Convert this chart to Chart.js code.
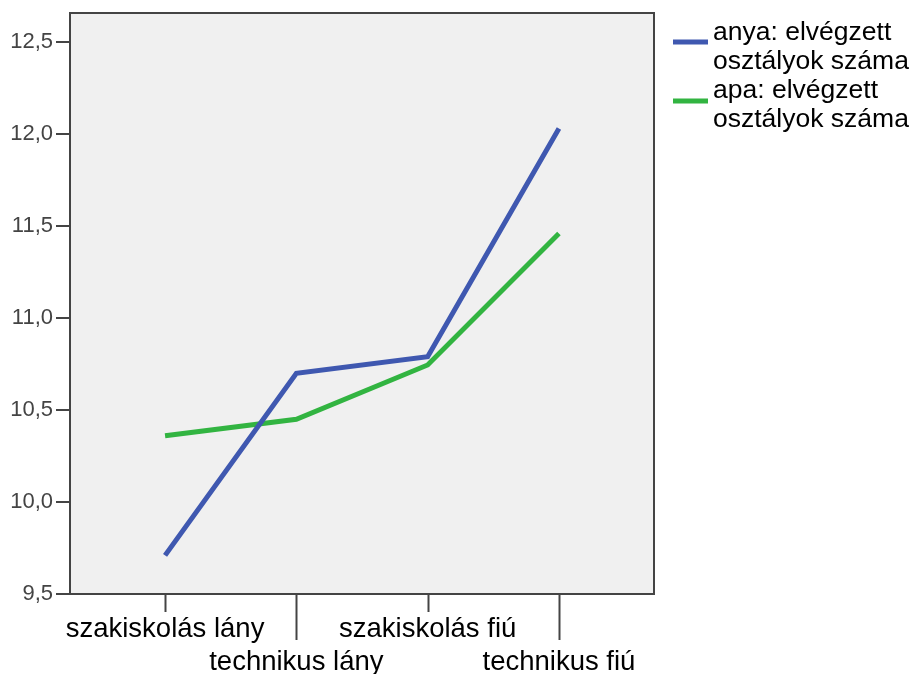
<!DOCTYPE html>
<html>
<head>
<meta charset="utf-8">
<script src="https://cdn.jsdelivr.net/npm/chart.js@4.4.1/dist/chart.umd.min.js"></script>
<style>
html,body{margin:0;padding:0;background:#fff;}
#wrap{width:923px;height:674px;position:relative;}
</style>
</head>
<body>
<div id="wrap"><canvas id="c" width="923" height="674"></canvas></div>
<script>
const categories = ['szakiskolás lány', 'technikus lány', 'szakiskolás fiú', 'technikus fiú'];
const seriesNames = [['anya: elvégzett', 'osztályok száma'], ['apa: elvégzett', 'osztályok száma']];
const anyaValues = [9.71, 10.70, 10.79, 12.03];
const apaValues = [10.36, 10.45, 10.745, 11.46];
const yTickValues = [9.5, 10.0, 10.5, 11.0, 11.5, 12.0, 12.5];
const seriesColors = ['#3f58b0', '#32b441'];

const FONT = '"Liberation Sans", Arial, sans-serif';

const bgPlugin = {
  id: 'bg',
  beforeDraw(chart) {
    const {ctx, chartArea: a} = chart;
    ctx.save();
    ctx.fillStyle = '#f0f0f0';
    ctx.fillRect(a.left, a.top, a.right - a.left, a.bottom - a.top);
    ctx.restore();
  },
  afterDatasetsDraw(chart) {
    const {ctx, chartArea: a, scales} = chart;
    ctx.save();
    ctx.strokeStyle = '#444';
    ctx.lineWidth = 2;
    ctx.strokeRect(a.left, a.top, a.right - a.left, a.bottom - a.top);
    categories.forEach((c, i) => {
      const x = Math.round(scales.x.getPixelForValue(i)) + 0.5;
      ctx.beginPath();
      ctx.moveTo(x, a.bottom);
      ctx.lineTo(x, a.bottom + (i % 2 === 0 ? 18 : 46));
      ctx.stroke();
    });
    yTickValues.forEach(v => {
      const y = Math.round(scales.y.getPixelForValue(v));
      ctx.beginPath();
      ctx.moveTo(a.left - 14, y);
      ctx.lineTo(a.left, y);
      ctx.stroke();
    });
    ctx.font = '26.5px ' + FONT;
    ctx.fillStyle = '#000';
    ctx.textBaseline = 'middle';
    ctx.textAlign = 'left';
    const lineY = [42, 101];
    const textY = [[33, 62], [91, 120]];
    seriesNames.forEach((lines, k) => {
      ctx.strokeStyle = seriesColors[k];
      ctx.lineWidth = 5;
      ctx.beginPath();
      ctx.moveTo(673, lineY[k]);
      ctx.lineTo(708, lineY[k]);
      ctx.stroke();
      lines.forEach((t, j) => ctx.fillText(t, 713, textY[k][j]));
    });
    ctx.restore();
  }
};

const toPoints = arr => arr.map((v, i) => ({x: i, y: v}));

new Chart(document.getElementById('c'), {
  type: 'line',
  data: {
    datasets: [
      {label: seriesNames[0].join(' '), data: toPoints(anyaValues), borderColor: seriesColors[0], borderWidth: 5, pointRadius: 0, tension: 0, fill: false, borderCapStyle: 'butt'},
      {label: seriesNames[1].join(' '), data: toPoints(apaValues), borderColor: seriesColors[1], borderWidth: 5, pointRadius: 0, tension: 0, fill: false, borderCapStyle: 'butt'}
    ]
  },
  options: {
    responsive: false,
    animation: false,
    devicePixelRatio: 1,
    layout: {padding: {top: 13, right: 269, left: 0, bottom: 0}},
    plugins: {legend: {display: false}, tooltip: {enabled: false}},
    scales: {
      x: {
        type: 'linear',
        min: -0.724,
        max: 3.724,
        afterBuildTicks: s => { s.ticks = categories.map((c, i) => ({value: i})); },
        afterFit: s => { s.height = 80; s.paddingLeft = 0; s.paddingRight = 0; },
        grid: {display: false, drawTicks: false},
        border: {display: false},
        ticks: {
          autoSkip: false,
          maxRotation: 0,
          padding: 19,
          color: '#000',
          font: {family: FONT, size: 27.5},
          callback: (v) => { const i = Math.round(v); return i % 2 === 0 ? categories[i] : ['', categories[i]]; }
        }
      },
      y: {
        min: 9.5,
        max: 12.658,
        afterBuildTicks: s => { s.ticks = yTickValues.map(v => ({value: v})); },
        afterFit: s => { s.width = 70; s.paddingTop = 0; s.paddingBottom = 0; },
        grid: {display: false, drawTicks: false},
        border: {display: false},
        ticks: {
          padding: 17,
          color: '#444',
          font: {family: FONT, size: 22},
          callback: v => v.toFixed(1).replace('.', ',')
        }
      }
    }
  },
  plugins: [bgPlugin]
});
</script>
</body>
</html>
